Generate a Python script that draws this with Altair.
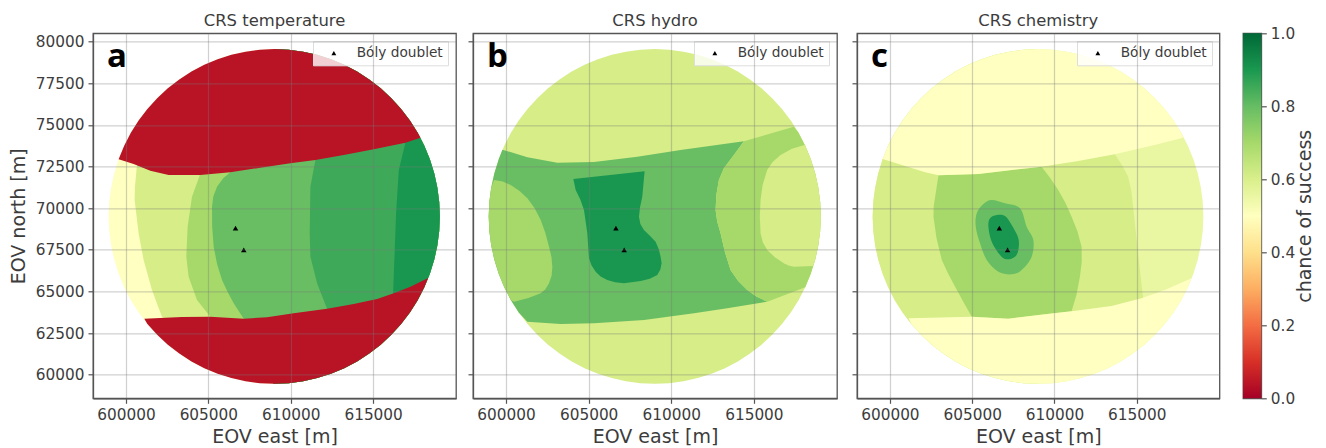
import altair as alt
import pandas as pd

# ---- rim of the circular model area, every 5 degrees (EOV metres)
RIM_X = [619050,619012,618897,618708,618444,618108,617704,617233,616699,616106,615460,614764,
         614025,613247,612437,611601,610745,609876,609000,608124,607255,606399,605563,604753,
         603975,603236,602540,601894,601301,600767,600296,599892,599556,599292,599103,598988,
         598950,598988,599103,599292,599556,599892,600296,600767,601301,601894,602540,603236,
         603975,604753,605563,606399,607255,608124,609000,609876,610745,611601,612437,613247,
         614025,614764,615460,616106,616699,617233,617704,618108,618444,618708,618897,619012]
RIM_Y = [69500,70376,71245,72101,72937,73747,74525,75264,75960,76606,77199,77733,
         78204,78608,78944,79208,79397,79512,79550,79512,79397,79208,78944,78608,
         78204,77733,77199,76606,75960,75264,74525,73747,72937,72101,71245,70376,
         69500,68624,67755,66899,66063,65253,64475,63736,63040,62394,61801,61267,
         60796,60392,60056,59792,59603,59488,59450,59488,59603,59792,60056,60392,
         60796,61267,61801,62394,63040,63736,64475,65253,66063,66899,67755,68624]

def rim(i, j, step=1):
    out, k = [], i
    while True:
        out.append((RIM_X[k % 72], RIM_Y[k % 72]))
        if k == j:
            return out
        k += step

# ---- colours of the contour bands
RED = "#b91326"
YELLOW = "#feffc0"
PALE = "#e9f6a2"
LIGHT = "#d6ed88"
MID = "#a6d96a"
GREEN = "#69be63"
DEEP = "#3fa95a"
DARK = "#199750"

# ---- panel a
A_TOP = [(599556,72937),(600466,72653),(601478,72252),(602591,71992),(604514,71992),(606335,72152),
         (608157,72432),(609978,72693),(611496,72893),(613217,73193),(615038,73534),(616961,73934),(617872,74234)]
A_BOTTOM = [(601113,63363),(603400,63463),(605121,63483),(607145,63363),(608562,63443),(610181,63683),
            (612205,63964),(613824,64244),(615241,64545),(616253,64885),(617265,65285),(618337,65806)]
A_LIGHT = [(600668,72593),(600546,71291),(600526,70490),(600769,68489),(601073,66887),(601579,65085),(602186,63483)]
A_MID = [(604473,71952),(604008,70691),(603744,68889),(603663,67087),(603805,65886),(604311,64485),(605121,63483)]
A_GREEN = [(606335,72152),(605900,71800),(605526,71291),(605300,70700),(605222,70090),(605230,68900),(605323,67688),
           (605530,66650),(605829,65686),(606180,64950),(606538,64285),(607145,63363)]
A_DEEP = [(611496,72893),(611193,71291),(611152,68489),(611193,67087),(611598,65485),(612205,63964)]
A_DARK = [(616961,73934),(616557,72292),(616394,69690),(616213,64885),(615500,63000)]
A_UPPER = [(604000,76000)]
A_LOWER = [(605000,61500)]

def a_band(curve):
    return curve + A_LOWER + rim(54, 90) + A_UPPER

A_POLYS = [
    (rim(0, 71), YELLOW, "linear-closed"),
    (a_band(A_LIGHT), LIGHT, "linear-closed"),
    (a_band(A_MID), MID, "linear-closed"),
    (a_band(A_GREEN), GREEN, "linear-closed"),
    (a_band(A_DEEP), DEEP, "linear-closed"),
    (a_band(A_DARK), DARK, "linear-closed"),
    (A_TOP + rim(6, 31), RED, "linear-closed"),
    (A_BOTTOM + rim(67, 44, -1), RED, "linear-closed"),
]

# ---- panel b
B_TOP = [(599778,73513),(601290,73053),(603105,72733),(605322,72773),(607943,73093),(610564,73494),(614394,74014)]
B_RIGHT = [(613800,73200),(613185,72392),(612882,71692),(612730,70800),(612681,69890),(612780,69200),(612983,68489),
           (613250,67350),(613588,66286),(614050,65620),(614596,65085),(615150,64700),(615805,64384)]
B_BOTTOM = [(613386,63984),(611370,63684),(608346,63283),(605322,63083),(603306,63043),(601290,63183)]
B_LEFT_LOBE = [(599274,71692),(599800,71600),(600282,71391),(600820,71030),(601290,70591),(601730,70000),(602097,69289),
               (602380,68500),(602601,67688),(602750,67050),(602802,66486),(602760,65950),(602601,65486),(602380,65130),
               (602097,64885),(601350,64600),(600484,64384)]
B_RIGHT_LOBE = [(618063,73794),(617300,73570),(616612,73193),(616130,72770),(615805,72292),(615530,71400),(615402,70490),
                (615360,69500),(615402,68489),(615540,67950),(615805,67488),(616270,67050),(616813,66687),(617100,66560),
                (617418,66487),(618588,66527)]
B_CORE = [(604072,71752),(605322,71892),(608387,72212),(608245,70691),(608110,70050),(608044,69490),(608130,69050),
          (608346,68689),(608720,68330),(609052,67988),(609250,67520),(609354,67087),(609415,66687),(609340,66320),
          (609153,65986),(608700,65760),(608145,65626),(607137,65486),(606600,65550),(606129,65686),(605720,65900),
          (605423,66186),(605170,66570),(605020,66987),(604919,68489),(604717,69890),(604500,70500),(604213,71091)]
B_TIP = [(617418,74895)]

B_POLYS = [
    (rim(0, 71), LIGHT, "linear-closed"),
    (B_TOP + B_RIGHT + B_BOTTOM + rim(43, 32, -1), GREEN, "linear-closed"),
    (B_LEFT_LOBE + rim(42, 34, -1), MID, "linear-closed"),
    ([B_TOP[-1]] + B_TIP + rim(6, -5, -1) + [B_RIGHT[-1]] + B_RIGHT[::-1][1:], MID, "linear-closed"),
    (B_RIGHT_LOBE + rim(69, 77), LIGHT, "linear-closed"),
    (B_CORE, DARK, "linear-closed"),
]

# ---- panel c
C_TOP = [(599555,72953),(600728,72593),(602143,72152),(602952,71972),(605379,72052),(609220,72493),
         (611445,72833),(613669,73233),(616095,73794),(617814,74234)]
C_BOTTOM = [(601132,63383),(604974,63484),(607198,63363),(609423,63624),(611040,63804),(613467,64125),
            (615286,64585),(616702,65085),(618319,65786)]
C_LIGHT = [(613669,73233),(614120,72560),(614478,71892),(614680,71000),(614781,70090),(614930,68700),(615084,67287),
           (615240,65900),(615387,64585),(615000,63000)]
C_MID = [(602952,71972),(605379,72052),(609220,72493),(609750,71800),(610231,71091),(610680,70300),(611040,69489),
         (611400,68600),(611647,67688),(611660,66800),(611546,65886),(611340,64800),(611040,63804),(609423,63624),
         (607198,63363),(604974,63484),(604450,64400),(603963,65285),(603520,66100),(603154,66887),(602830,68200),
         (602649,69490),(602660,70100),(602750,70691)]
C_GREEN = [(606187,70490),(606996,70290),(607906,69990),(608310,68889),(608715,68088),(608614,67087),(608007,66286),
           (607401,66026),(606592,66186),(605884,66887),(605480,67888),(605217,68889),(605277,69690),(605682,70250)]
C_DARK = [(606491,69590),(606996,69530),(607401,68989),(607805,68188),(607805,67488),(607603,67087),(607097,66927),
          (606693,67187),(606187,67988),(605985,68889),(606086,69389)]
C_UPPER = [(610000,77000)]

C_POLYS = [
    (rim(0, 71), PALE, "linear-closed"),
    (C_LIGHT + rim(54, 18, -1) + C_UPPER, LIGHT, "linear-closed"),
    (C_MID, MID, "linear-closed"),
    (C_GREEN, GREEN, "cardinal-closed"),
    (C_DARK, DARK, "cardinal-closed"),
    (C_TOP + rim(6, 31), YELLOW, "linear-closed"),
    (C_BOTTOM + rim(67, 44, -1), YELLOW, "linear-closed"),
]

WELLS_X = [606650, 607150]
WELLS_Y = [68800, 67500]
WELL_NAME = "Bóly doublet"
PANELS = [
    ("CRS temperature", "a", A_POLYS),
    ("CRS hydro", "b", B_POLYS),
    ("CRS chemistry", "c", C_POLYS),
]
X_TICKS = [600000, 605000, 610000, 615000]
Y_TICKS = [60000, 62500, 65000, 67500, 70000, 72500, 75000, 77500, 80000]
X_DOMAIN = [598000, 620030]
Y_DOMAIN = [58580, 80500]
CMAP = ["#a50026", "#d73027", "#f46d43", "#fdae61", "#fee08b", "#ffffbf",
        "#d9ef8b", "#a6d96a", "#66bd63", "#1a9850", "#006837"]
CB_TICKS = [0.0, 0.2, 0.4, 0.6, 0.8, 1.0]
FONT = "DejaVu Sans"
INK = "#3c3c3c"


def panel(title, letter, polys, first, width, extra):
    xs = alt.Scale(domain=X_DOMAIN, nice=False, zero=False)
    ys = alt.Scale(domain=Y_DOMAIN, nice=False, zero=False)
    xa = alt.Axis(values=X_TICKS, format="d", title="EOV east [m]", grid=True, zindex=1, titlePadding=5)
    ya = alt.Axis(values=Y_TICKS, format="d", title="EOV north [m]" if first else None,
                  labels=first, grid=True, zindex=1, titlePadding=7)
    layers = []
    for pts, colour, curve in polys:
        df = pd.DataFrame({"x": [p[0] for p in pts], "y": [p[1] for p in pts], "i": range(len(pts))})
        layers.append(
            alt.Chart(df).mark_line(fill=colour, strokeWidth=0, interpolate=curve).encode(
                x=alt.X("x:Q", scale=xs, axis=xa),
                y=alt.Y("y:Q", scale=ys, axis=ya),
                order="i:Q",
            )
        )
    wells = pd.DataFrame({"x": WELLS_X, "y": WELLS_Y, "n": [WELL_NAME] * 2})
    layers.append(
        alt.Chart(wells).mark_point(filled=True, color="black", size=30, opacity=1).encode(
            x=alt.X("x:Q", scale=xs, axis=xa),
            y=alt.Y("y:Q", scale=ys, axis=ya),
            shape=alt.Shape(
                "n:N",
                scale=alt.Scale(domain=[WELL_NAME], range=["triangle-up"]),
                legend=alt.Legend(
                    orient="top-right", title=None, offset=8, padding=5,
                    fillColor="rgba(255,255,255,0.8)", strokeColor="#dddddd",
                    symbolSize=24, symbolFillColor="black", symbolStrokeColor="black",
                    symbolOffset=9, labelOffset=16, labelFontSize=13.7, labelFont=FONT, labelColor=INK,
                ),
            ),
        )
    )
    layers.append(
        alt.Chart(pd.DataFrame({"t": [letter]})).mark_text(
            font="Open Sans", fontWeight="bold", fontSize=33, color="black", align="left", baseline="alphabetic"
        ).encode(
            x=alt.X(datum=598850, scale=xs, axis=xa),
            y=alt.Y(datum=78450, scale=ys, axis=ya),
            text="t:N",
        )
    )
    if extra:
        layers.append(
            alt.Chart(pd.DataFrame({"t": [0]})).mark_rule(opacity=0).encode(
                x=alt.value(width), x2=alt.value(width + extra), y=alt.value(0)
            )
        )
    return alt.layer(*layers).properties(
        width=width, height=365, title=alt.TitleParams(title, fontSize=16.4, font=FONT, color=INK, fontWeight="normal", offset=4)
    )


charts = [
    panel(PANELS[0][0], PANELS[0][1], PANELS[0][2], True, 363, 0),
    panel(PANELS[1][0], PANELS[1][1], PANELS[1][2], False, 364, 3),
    panel(PANELS[2][0], PANELS[2][1], PANELS[2][2], False, 362.5, 12.7),
]

bar = alt.Chart(pd.DataFrame({"a": [0.0], "b": [1.0]})).mark_rect(
    color=alt.Gradient(
        gradient="linear",
        stops=[alt.GradientStop(color=c, offset=i / (len(CMAP) - 1)) for i, c in enumerate(CMAP)],
        x1=0, x2=0, y1=1, y2=0,
    )
).encode(
    y=alt.Y("a:Q", scale=alt.Scale(domain=[0, 1], nice=False),
            axis=alt.Axis(orient="right", values=CB_TICKS, format=".1f", title="chance of success", titleAngle=270,
                          titleBaseline="top", titlePadding=1, grid=False, domain=False)),
    y2="b:Q",
).properties(width=18.3, height=365)

chart = (
    alt.hconcat(*charts, bar, spacing=9)
    .resolve_scale(shape="independent", x="independent", y="independent")
    .properties(
        autosize=alt.AutoSizeParams(type="none", contains="content"),
        padding={"left": 85, "top": 25.3, "right": 1225, "bottom": 414.7},
        background="white",
    )
    .configure_view(stroke="#555555", strokeWidth=1.3)
    .configure_axis(
        labelFont=FONT, titleFont=FONT, labelFontSize=15.3, titleFontSize=19, titleFontWeight="normal",
        labelColor=INK, titleColor=INK,
        tickColor="#555555", tickSize=5, tickWidth=1.2, domainColor="#555555", domainWidth=1.3,
        gridColor="#777777", gridOpacity=0.35, gridWidth=1.2, labelPadding=4, labelFlush=False,
    )
)
chart.save("out.html", embed_options={"renderer": "svg", "actions": False})
